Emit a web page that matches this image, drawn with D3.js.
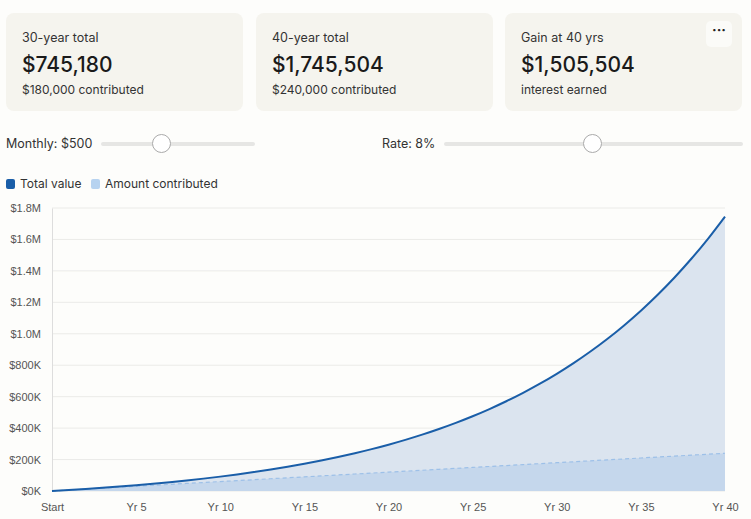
<!DOCTYPE html>
<html>
<head>
<meta charset="utf-8">
<script src="https://cdn.jsdelivr.net/npm/d3@7"></script>
<style>
  body { margin: 0; background: #fdfdfb; font-family: Inter, "Noto Sans", sans-serif; color: #222; }
  .card { position: absolute; top: 13px; width: 237px; height: 98px; background: #f5f4ee; border-radius: 8px; }
  .card .t { position: absolute; left: 16px; top: 17px; font-size: 12.5px; color: #333; white-space: nowrap; }
  .card .v { position: absolute; left: 16px; top: 39px; font-size: 21px; font-weight: 500; color: #1a1a1a; white-space: nowrap; }
  .card .s { position: absolute; left: 16px; top: 69px; font-size: 12px; color: #333; white-space: nowrap; }
  .dots { position: absolute; right: 10px; top: 8px; width: 26px; height: 26px; background: #fbfbf8; border-radius: 5px; text-align: center; font-size: 14px; line-height: 18px; font-weight: bold; }
  .lbl { position: absolute; top: 136px; font-size: 12.5px; color: #333; white-space: nowrap; }
  .track { position: absolute; top: 142px; height: 4px; background: #e6e6e4; border-radius: 2px; }
  .knob { position: absolute; top: 134px; width: 17px; height: 17px; border: 1px solid #aaa; border-radius: 50%; background: #fff; }
  .leg { position: absolute; top: 176px; font-size: 12px; color: #333; white-space: nowrap; }
  .sw { display: inline-block; width: 9px; height: 10px; border-radius: 2px; vertical-align: -1px; margin-right: 5px; }
  #chart { position: absolute; left: 0; top: 195px; }
</style>
</head>
<body>
<div class="card" style="left:6px"><div class="t">30-year total</div><div class="v">$745,180</div><div class="s">$180,000 contributed</div></div>
<div class="card" style="left:256px"><div class="t">40-year total</div><div class="v">$1,745,504</div><div class="s">$240,000 contributed</div></div>
<div class="card" style="left:505px"><div class="t">Gain at 40 yrs</div><div class="v">$1,505,504</div><div class="s">interest earned</div><div class="dots">···</div></div>
<div class="lbl" style="left:6px">Monthly: $500</div>
<div class="track" style="left:101px;width:154px"></div>
<div class="knob" style="left:152px"></div>
<div class="lbl" style="left:382px">Rate: 8%</div>
<div class="track" style="left:444px;width:299px"></div>
<div class="knob" style="left:583px"></div>
<div class="leg" style="left:6px"><span class="sw" style="background:#1a5ea8"></span>Total value</div>
<div class="leg" style="left:91px"><span class="sw" style="background:#b7d3f0"></span>Amount contributed</div>
<div id="chart"></div>
<script>
// Year-end balances ($500/month, 8%)
const years = d3.range(0, 41);
const totalValue = [0, 6225, 12967, 20266, 28175, 36735, 46010, 56055, 66935, 78715,
  91473, 105290, 120255, 136460, 154015, 173020, 193605, 215900, 240045, 266190,
  294510, 325180, 358395, 394365, 433320, 475513, 521205, 570690, 624285, 682325,
  745180, 813255, 886980, 966825, 1053300, 1146945, 1248370, 1358205, 1477160, 1605990,
  1745504];
const contributed = [0, 6000, 12000, 18000, 24000, 30000, 36000, 42000, 48000, 54000,
  60000, 66000, 72000, 78000, 84000, 90000, 96000, 102000, 108000, 114000,
  120000, 126000, 132000, 138000, 144000, 150000, 156000, 162000, 168000, 174000,
  180000, 186000, 192000, 198000, 204000, 210000, 216000, 222000, 228000, 234000,
  240000];
const yTicks = [0, 200000, 400000, 600000, 800000, 1000000, 1200000, 1400000, 1600000, 1800000];
const xTicks = [0, 5, 10, 15, 20, 25, 30, 35, 40];
const xTickLabels = ["Start", "Yr 5", "Yr 10", "Yr 15", "Yr 20", "Yr 25", "Yr 30", "Yr 35", "Yr 40"];

const data = years.map((y, i) => ({year: y, total: totalValue[i], contrib: contributed[i]}));

const width = 751, height = 324;
const margin = {top: 13, right: 26, bottom: 28, left: 52};
const innerWidth = width - margin.left - margin.right;
const innerHeight = height - margin.top - margin.bottom;

const svg = d3.select("#chart").append("svg")
  .attr("width", width).attr("height", height);
const innerChart = svg.append("g")
  .attr("transform", `translate(${margin.left}, ${margin.top})`);

const xScale = d3.scaleLinear().domain([0, 40]).range([0, innerWidth]);
const yScale = d3.scaleLinear().domain([0, 1800000]).range([innerHeight, 0]);

// Grid lines
innerChart.selectAll(".grid").data(yTicks).join("line")
  .attr("x1", 0).attr("x2", innerWidth)
  .attr("y1", d => yScale(d)).attr("y2", d => yScale(d))
  .attr("stroke", "#ebebe8");

// Left axis
const fmt = d => d >= 1000000 ? `$${(d / 1000000).toFixed(1)}M` : `$${d / 1000}K`;
const leftAxis = d3.axisLeft(yScale).tickValues(yTicks).tickFormat(fmt).tickSize(0).tickPadding(11);
const ya = innerChart.append("g").call(leftAxis);
ya.select(".domain").attr("stroke", "#ddd");
ya.selectAll("text").attr("fill", "#555").style("font-size", "11px").style("font-family", "Arial, 'Liberation Sans', sans-serif");

// Bottom axis
const bottomAxis = d3.axisBottom(xScale).tickValues(xTicks)
  .tickFormat((d, i) => xTickLabels[i]).tickSize(0).tickPadding(12);
const xa = innerChart.append("g").attr("transform", `translate(0, ${innerHeight})`).call(bottomAxis);
xa.select(".domain").remove();
xa.selectAll("text").attr("fill", "#555").style("font-size", "11px").style("font-family", "Arial, 'Liberation Sans', sans-serif");

// Areas
const areaTotal = d3.area().x(d => xScale(d.year)).y0(innerHeight).y1(d => yScale(d.total)).curve(d3.curveMonotoneX);
const areaContrib = d3.area().x(d => xScale(d.year)).y0(innerHeight).y1(d => yScale(d.contrib));
innerChart.append("path").attr("d", areaTotal(data)).attr("fill", "#dbe4ef");
innerChart.append("path").attr("d", areaContrib(data)).attr("fill", "#c5d7ec");

// Lines
const lineContrib = d3.line().x(d => xScale(d.year)).y(d => yScale(d.contrib));
innerChart.append("path").attr("d", lineContrib(data))
  .attr("fill", "none").attr("stroke", "#9dc0e8").attr("stroke-width", 1.2).attr("stroke-dasharray", "4,3");
const lineTotal = d3.line().x(d => xScale(d.year)).y(d => yScale(d.total)).curve(d3.curveMonotoneX);
innerChart.append("path").attr("d", lineTotal(data))
  .attr("fill", "none").attr("stroke", "#1a5ea8").attr("stroke-width", 2);
</script>
</body>
</html>
